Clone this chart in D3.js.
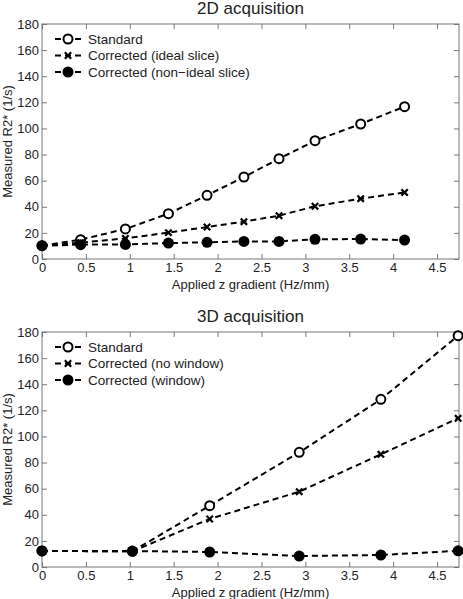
<!DOCTYPE html>
<html><head><meta charset="utf-8">
<script src="https://cdn.jsdelivr.net/npm/d3@7/dist/d3.min.js"></script>
<style>body{margin:0;background:#fff}svg{display:block}text{font-family:"Liberation Sans",Arial,sans-serif;fill:#222}</style>
</head><body><svg id="c" width="463" height="599"></svg>
<script>
const xTicks = [0,0.5,1,1.5,2,2.5,3,3.5,4,4.5];
const yTicks = [0,20,40,60,80,100,120,140,160,180];

const x2D = [0,0.44,0.95,1.44,1.88,2.30,2.70,3.11,3.63,4.13];
const std2D = [10.2,14.8,23,34.7,48.8,62.8,76.8,90.6,103.4,116.7];
const ideal2D = [10.2,12.5,15.8,20.2,24.5,28.6,33.2,40.4,46.2,51];
const nonIdeal2D = [10.2,11,11.2,12.2,12.8,13.5,13.5,15.1,15.3,14.5];
const labels2D = ["Standard","Corrected (ideal slice)","Corrected (non\u2212ideal slice)"];

const x3D = [0,1.03,1.91,2.93,3.86,4.74];
const std3D = [12.3,12,47,87.8,128.4,177.2];
const noWin3D = [12.3,12,36.8,57.7,86.3,113.9];
const win3D = [12.3,12.2,11.5,8.4,9.2,12.4];
const labels3D = ["Standard","Corrected (no window)","Corrected (window)"];

const markers = ["open","cross","filled"];
const svg = d3.select("#c");

function drawMarker(g, type, cx, cy){
  if(type==="open"){
    g.append("circle").attr("cx",cx).attr("cy",cy).attr("r",4.5).attr("fill","#fff").attr("stroke","#000").attr("stroke-width",2);
  } else if(type==="filled"){
    g.append("circle").attr("cx",cx).attr("cy",cy).attr("r",5.5).attr("fill","#000");
  } else {
    const s=3.2;
    g.append("path").attr("d",`M${cx-s},${cy-s}L${cx+s},${cy+s}M${cx-s},${cy+s}L${cx+s},${cy-s}`).attr("stroke","#000").attr("stroke-width",2.2);
  }
}

function panel(top, title, xs, series, labels){
  const left=42, right=459, bottom=top+235;
  const x=d3.scaleLinear().domain([0,4.75]).range([left,right]);
  const y=d3.scaleLinear().domain([0,180]).range([bottom,top]);
  const g=svg.append("g");
  g.append("rect").attr("x",left).attr("y",top).attr("width",right-left).attr("height",bottom-top).attr("fill","none").attr("stroke","#777").attr("stroke-width",1);
  const ax=g.append("g").attr("transform",`translate(0,${bottom})`).call(d3.axisBottom(x).tickValues(xTicks).tickSize(-5).tickPadding(4).tickFormat(d3.format("")));
  const axT=g.append("g").attr("transform",`translate(0,${top})`).call(d3.axisTop(x).tickValues(xTicks).tickSize(-5).tickFormat(""));
  const ay=g.append("g").attr("transform",`translate(${left},0)`).call(d3.axisLeft(y).tickValues(yTicks).tickSize(-5).tickPadding(3));
  const ayR=g.append("g").attr("transform",`translate(${right},0)`).call(d3.axisRight(y).tickValues(yTicks).tickSize(-5).tickFormat(""));
  [ax,axT,ay,ayR].forEach(a=>{a.select(".domain").remove();a.selectAll("line").attr("stroke","#777");a.selectAll("text").attr("font-size",13).attr("fill","#222").style("font-family","Liberation Sans, Arial, sans-serif");});
  g.append("text").attr("x",(left+right)/2).attr("y",top-10).attr("text-anchor","middle").attr("font-size",17).text(title);
  g.append("text").attr("x",(left+right)/2).attr("y",bottom+30).attr("text-anchor","middle").attr("font-size",13).text("Applied z gradient (Hz/mm)");
  g.append("text").attr("transform",`translate(12,${(top+bottom)/2}) rotate(-90)`).attr("text-anchor","middle").attr("font-size",13).text("Measured R2* (1/s)");
  const line=d3.line().x(d=>x(d[0])).y(d=>y(d[1]));
  series.forEach((vals,i)=>{
    const pts=xs.map((xv,j)=>[xv,vals[j]]);
    g.append("path").datum(pts).attr("d",line).attr("fill","none").attr("stroke","#000").attr("stroke-width",2).attr("stroke-dasharray","6,4");
  });
  series.forEach((vals,i)=>{
    xs.forEach((xv,j)=>drawMarker(g,markers[i],x(xv),y(vals[j])));
  });
  labels.forEach((lab,i)=>{
    const ly=top+15+i*16.5;
    g.append("line").attr("x1",54).attr("x2",82).attr("y1",ly).attr("y2",ly).attr("stroke","#000").attr("stroke-width",2).attr("stroke-dasharray","6,4").attr("stroke-dashoffset",-1);
    drawMarker(g,markers[i],68,ly);
    g.append("text").attr("x",88).attr("y",ly+4.5).attr("font-size",13.5).text(lab);
  });
}

panel(24,"2D acquisition",x2D,[std2D,ideal2D,nonIdeal2D],labels2D);
panel(332,"3D acquisition",x3D,[std3D,noWin3D,win3D],labels3D);
</script></body></html>
